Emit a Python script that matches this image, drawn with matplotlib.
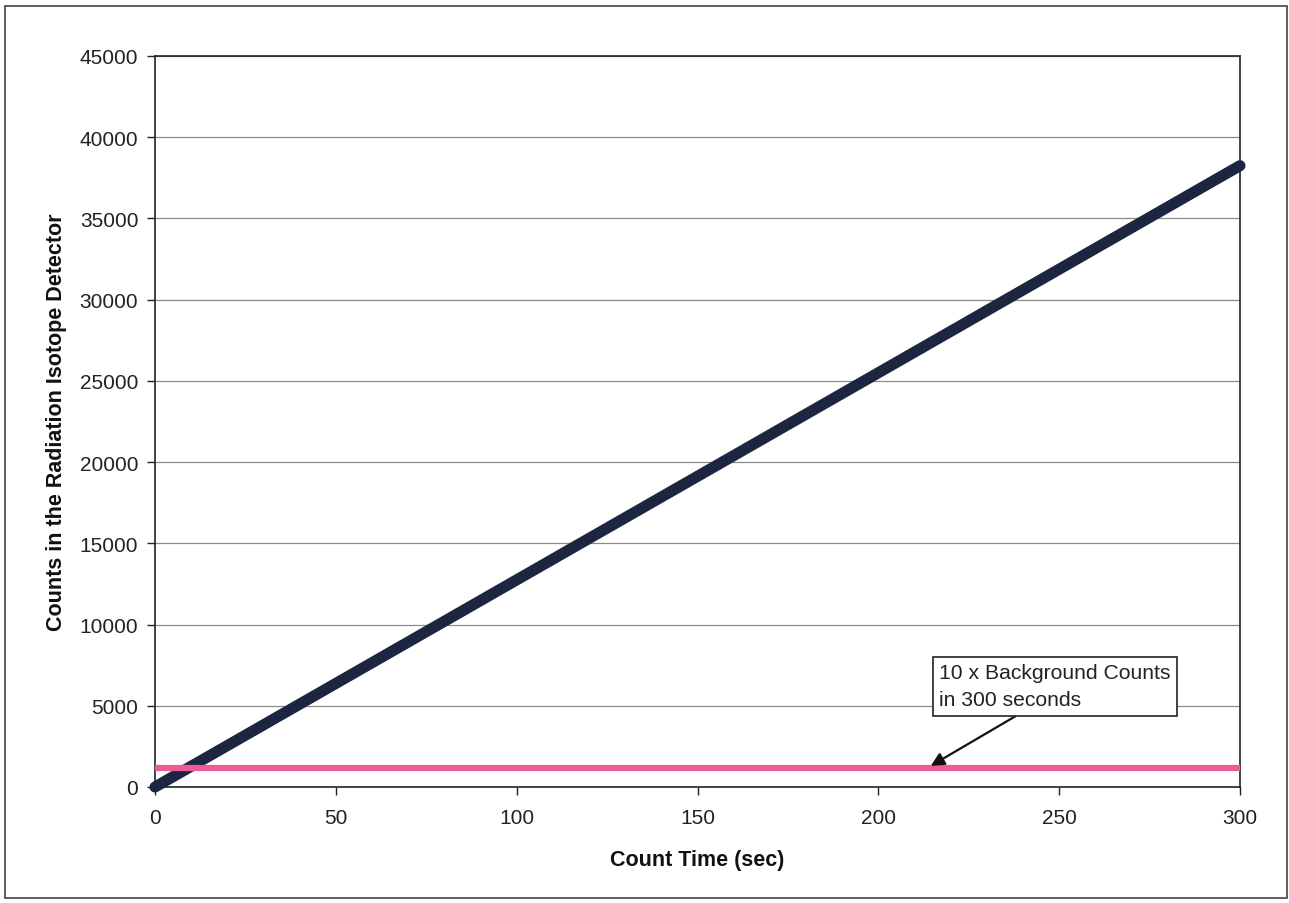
import matplotlib
matplotlib.use('Agg')
from matplotlib import pyplot as plt
from matplotlib.patches import Rectangle

# data
count_time = [0, 300]
isotope_counts = [0, 38250]
background_time = [0, 300]
background_counts = [1150, 1150]

y_ticks = [0, 5000, 10000, 15000, 20000, 25000, 30000, 35000, 40000, 45000]
x_ticks = [0, 50, 100, 150, 200, 250, 300]

plt.rcParams['font.family'] = ['Liberation Sans', 'DejaVu Sans']

fig = plt.figure(figsize=(12.89, 9.04), dpi=100)
ax = fig.add_axes([155 / 1289, 1 - 788 / 904, 1085 / 1289, 731 / 904])

# outer chart border
fig.patches.append(Rectangle((5 / 1289, 1 - 899 / 904), 1282 / 1289, 892 / 904,
                             transform=fig.transFigure, fill=False,
                             edgecolor='#444444', linewidth=1.2))

ax.plot(count_time, isotope_counts, color='#1d2641', linewidth=8,
        solid_capstyle='round', zorder=3, clip_on=False)
ax.plot(background_time, background_counts, color='#ee5b97', linewidth=4.5,
        solid_capstyle='butt', zorder=4)

ax.set_xlim(0, 300)
ax.set_ylim(0, 45000)
ax.set_xticks(x_ticks)
ax.set_yticks(y_ticks)
ax.tick_params(direction='out', length=6, width=1, labelsize=15,
               colors='#222222')
ax.tick_params(axis='y', pad=6)
ax.tick_params(axis='x', pad=9)
ax.grid(axis='y', color='#8a8a8a', linewidth=0.9)
ax.set_axisbelow(True)
for s in ax.spines.values():
    s.set_color('#222222')
    s.set_linewidth(1.2)

ax.set_xlabel('Count Time (sec)', fontsize=15.5, fontweight='bold',
              labelpad=16, color='#111111')
ax.set_ylabel('Counts in the Radiation Isotope Detector', fontsize=15.5,
              fontweight='bold', labelpad=9, color='#111111')

ax.annotate('10 x Background Counts\nin 300 seconds', xy=(214.5, 1300),
            xytext=(216.8, 6200), fontsize=15.2, ha='left', va='center',
            linespacing=1.55, color='#222222',
            bbox=dict(boxstyle='square,pad=0.3', facecolor='white',
                      edgecolor='#222222', linewidth=1.2),
            arrowprops=dict(arrowstyle='-|>', color='#111111', linewidth=1.6,
                            mutation_scale=20, shrinkA=0, shrinkB=0,
                            relpos=(0.38, 0.0)),
            zorder=5)

fig.savefig('out.png', dpi=100)
plt.close(fig)
